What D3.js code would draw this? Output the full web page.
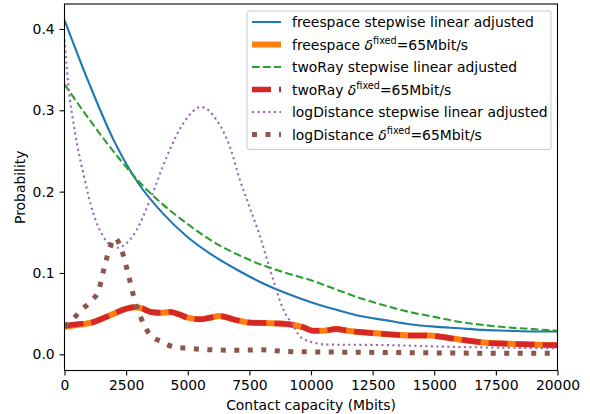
<!DOCTYPE html>
<html>
<head>
<meta charset="utf-8">
<script src="https://cdn.jsdelivr.net/npm/d3@7"></script>
<style>
  html, body { margin: 0; padding: 0; background: #fff; }
  svg { display: block; font-family: "DejaVu Sans", sans-serif; }
</style>
</head>
<body>
<div id="container"></div>
<script>
const width = 590;
const height = 414;
const margin = { top: 4, right: 32.5, bottom: 43.5, left: 64.5 };

// series values: [capacity (Mbits), probability]
const freespaceStepwise = [
  [0, 0.411], [1000, 0.333], [2000, 0.263], [3000, 0.210], [4000, 0.173],
  [5000, 0.144], [6000, 0.122], [7000, 0.104], [8000, 0.088], [9000, 0.075],
  [10000, 0.064], [11000, 0.055], [12000, 0.047], [13000, 0.042], [14000, 0.037],
  [15000, 0.034], [16000, 0.032], [17000, 0.030], [18000, 0.029], [19000, 0.028],
  [20000, 0.028],
];
const freespaceFixed = [
  [0, 0.034], [500, 0.036], [1200, 0.040], [1850, 0.048], [2500, 0.056],
  [2800, 0.058], [3100, 0.057], [3500, 0.052], [3900, 0.051], [4300, 0.052],
  [4650, 0.049], [5000, 0.045], [5500, 0.043], [5900, 0.045], [6300, 0.047],
  [6850, 0.043], [7500, 0.039], [8600, 0.038], [9300, 0.036], [9700, 0.033],
  [10100, 0.029], [10500, 0.029], [11000, 0.031], [11500, 0.029], [12100, 0.027],
  [13000, 0.025], [14300, 0.023], [14800, 0.023], [15600, 0.020], [17000, 0.0145],
  [18000, 0.013], [19000, 0.012], [20000, 0.011],
];
const twoRayStepwise = [
  [0, 0.332], [1000, 0.289], [2000, 0.249], [3000, 0.213], [4000, 0.184],
  [5000, 0.160], [6000, 0.139], [7000, 0.123], [8000, 0.110], [9000, 0.100],
  [10000, 0.091], [11000, 0.080], [12000, 0.069], [13000, 0.060], [14000, 0.052],
  [15000, 0.046], [16000, 0.040], [17000, 0.036], [18000, 0.033], [19000, 0.031],
  [20000, 0.029],
];
const twoRayFixed = [
  [0, 0.035], [500, 0.037], [1200, 0.040], [1850, 0.048], [2500, 0.056],
  [2800, 0.058], [3100, 0.057], [3500, 0.052], [3900, 0.051], [4300, 0.052],
  [4650, 0.049], [5000, 0.045], [5500, 0.043], [5900, 0.045], [6300, 0.047],
  [6850, 0.043], [7500, 0.039], [8600, 0.038], [9300, 0.036], [9700, 0.033],
  [10100, 0.029], [10500, 0.029], [11000, 0.031], [11500, 0.029], [12100, 0.027],
  [13000, 0.025], [14300, 0.023], [14800, 0.023], [15600, 0.020], [17000, 0.0145],
  [18000, 0.013], [19000, 0.012], [20000, 0.011],
];
const logDistanceStepwise = [
  [0, 0.387], [150, 0.333], [430, 0.272], [760, 0.223], [1170, 0.173],
  [1570, 0.145], [2120, 0.131], [2930, 0.153], [3470, 0.190], [4150, 0.243],
  [4820, 0.284], [5550, 0.304], [6170, 0.288], [6710, 0.255], [7120, 0.214],
  [7520, 0.180], [7930, 0.145], [8340, 0.104], [8880, 0.055], [9280, 0.035],
  [9550, 0.022], [10230, 0.0135], [10640, 0.012], [12900, 0.0114], [15600, 0.0093],
  [20000, 0.0074],
];
const logDistanceFixed = [
  [0, 0.034], [300, 0.042], [700, 0.055], [1100, 0.066], [1400, 0.080],
  [1600, 0.105], [1850, 0.132], [2050, 0.143], [2320, 0.128], [2600, 0.097],
  [2860, 0.065], [3100, 0.045], [3470, 0.024], [3940, 0.0155], [4400, 0.0094],
  [5000, 0.0074], [6000, 0.0055], [7000, 0.005], [8000, 0.0055], [9000, 0.0035],
  [10000, 0.003], [12000, 0.0025], [14000, 0.002], [16000, 0.0015], [18000, 0.0013],
  [20000, 0.0012],
];

const xTicks = [0, 2500, 5000, 7500, 10000, 12500, 15000, 17500, 20000];
const yTicks = [0.0, 0.1, 0.2, 0.3, 0.4];

const series = [
  { name: "freespace", kind: "stepwise linear adjusted", data: freespaceStepwise,
    color: "#1f77b4", width: 2.1, dash: null },
  { name: "freespace", kind: "fixed", data: freespaceFixed,
    color: "#ff7f0e", width: 6, dash: null },
  { name: "twoRay", kind: "stepwise linear adjusted", data: twoRayStepwise,
    color: "#2ca02c", width: 2.1, dash: "7.7,3.3" },
  { name: "twoRay", kind: "fixed", data: twoRayFixed,
    color: "#d62728", width: 5.5, dash: "19,8" },
  { name: "logDistance", kind: "stepwise linear adjusted", data: logDistanceStepwise,
    color: "#9467bd", width: 2.1, dash: "2.1,3.4" },
  { name: "logDistance", kind: "fixed", data: logDistanceFixed,
    color: "#8c564b", width: 5, dash: "5,8.5" },
];

const svg = d3.select("#container").append("svg")
  .attr("width", width)
  .attr("height", height);

const x = d3.scaleLinear()
  .domain([0, 20000])
  .range([margin.left, width - margin.right]);
const y = d3.scaleLinear()
  .domain([-0.0199, 0.4307])
  .range([height - margin.bottom, margin.top]);

const line = d3.line()
  .x((d) => x(d[0]))
  .y((d) => y(d[1]))
  .curve(d3.curveMonotoneX);

svg.append("defs").append("clipPath").attr("id", "clip")
  .append("rect")
  .attr("x", margin.left).attr("y", margin.top)
  .attr("width", width - margin.left - margin.right)
  .attr("height", height - margin.top - margin.bottom);

svg.append("g")
  .attr("clip-path", "url(#clip)")
  .selectAll("path")
  .data(series)
  .join("path")
  .attr("fill", "none")
  .attr("stroke", (d) => d.color)
  .attr("stroke-width", (d) => d.width)
  .attr("stroke-dasharray", (d) => d.dash)
  .attr("d", (d) => line(d.data));

// axes
const xAxis = svg.append("g")
  .attr("transform", `translate(0,${height - margin.bottom})`)
  .call(d3.axisBottom(x).tickValues(xTicks).tickSize(4.9).tickPadding(4.9)
    .tickFormat(d3.format("d")));
const yAxis = svg.append("g")
  .attr("transform", `translate(${margin.left},0)`)
  .call(d3.axisLeft(y).tickValues(yTicks).tickSize(4.9).tickPadding(4.9)
    .tickFormat(d3.format(".1f")));

[xAxis, yAxis].forEach((g) => {
  g.select(".domain").remove();
  g.selectAll(".tick line").attr("stroke", "#000").attr("stroke-width", 1.1);
  g.selectAll(".tick text")
    .attr("font-family", "DejaVu Sans, sans-serif")
    .attr("font-size", 13.9)
    .attr("fill", "#000");
});

svg.append("rect")
  .attr("x", margin.left).attr("y", margin.top)
  .attr("width", width - margin.left - margin.right)
  .attr("height", height - margin.top - margin.bottom)
  .attr("fill", "none")
  .attr("stroke", "#000")
  .attr("stroke-width", 1.1);

svg.append("text")
  .attr("x", (margin.left + width - margin.right) / 2)
  .attr("y", 410)
  .attr("text-anchor", "middle")
  .attr("font-size", 13.9)
  .text("Contact capacity (Mbits)");

svg.append("text")
  .attr("transform", `translate(25,${(margin.top + height - margin.bottom) / 2}) rotate(-90)`)
  .attr("text-anchor", "middle")
  .attr("font-size", 13.9)
  .text("Probability");

// legend
const legend = svg.append("g").attr("transform", "translate(247,11)");
legend.append("rect")
  .attr("width", 304)
  .attr("height", 138.5)
  .attr("rx", 2.8)
  .attr("fill", "#fff")
  .attr("fill-opacity", 0.8)
  .attr("stroke", "#cccccc")
  .attr("stroke-width", 1.1);

const item = legend.selectAll(".item")
  .data(series)
  .join("g")
  .attr("class", "item")
  .attr("transform", (d, i) => `translate(0,${11 + i * 22.5})`);

item.append("line")
  .attr("x1", 5).attr("x2", 34)
  .attr("stroke", (d) => d.color)
  .attr("stroke-width", (d) => d.width)
  .attr("stroke-dasharray", (d) => d.dash);

const label = item.append("text")
  .attr("x", 45)
  .attr("y", 5)
  .attr("font-size", 13.9)
  .attr("fill", "#000");

label.each(function (d) {
  const t = d3.select(this);
  if (d.kind === "fixed") {
    t.append("tspan").text(d.name + " ");
    t.append("tspan").attr("font-style", "italic").text("δ");
    t.append("tspan").attr("font-size", 9.7).attr("dy", -5.5).text("fixed");
    t.append("tspan").attr("dy", 5.5).text("=65Mbit/s");
  } else {
    t.text(`${d.name} ${d.kind}`);
  }
});
</script>
</body>
</html>
